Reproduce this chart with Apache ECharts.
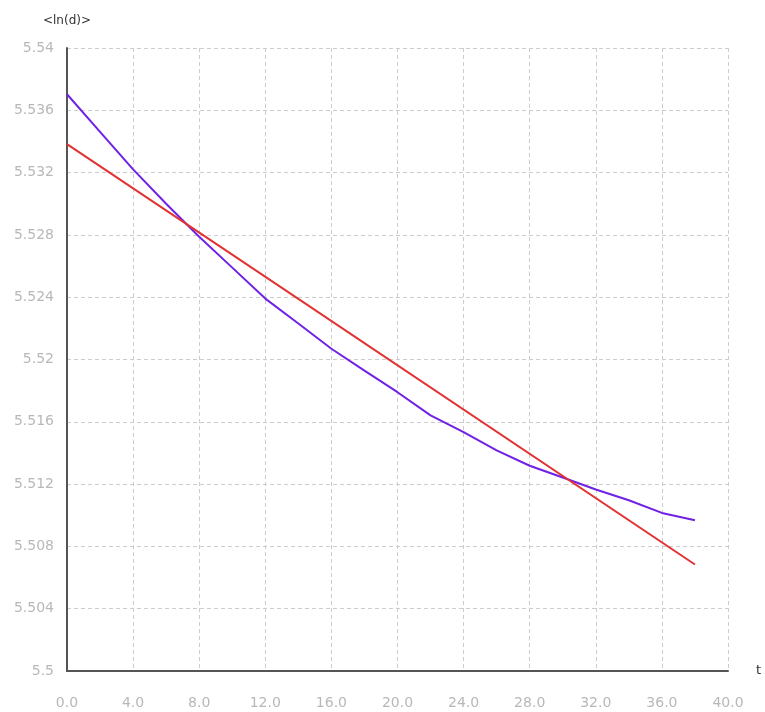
<!DOCTYPE html>
<html>
<head>
<meta charset="utf-8">
<script src="https://cdn.jsdelivr.net/npm/echarts@6/dist/echarts.min.js"></script>
<style>html,body{margin:0;padding:0;background:#fff}#c{width:765px;height:712px}</style>
</head>
<body>
<div id="c"></div>
<script>
var purpleT = [0, 2, 4, 6, 8, 10, 12, 14, 16, 18, 20, 22, 24, 26, 28, 30, 32, 34, 36, 38];
var purpleV = [5.53703, 5.53462, 5.53221, 5.53000, 5.52788, 5.52590, 5.52391, 5.52231, 5.52069, 5.51929, 5.51790, 5.51641, 5.51534, 5.51417, 5.51318, 5.51242, 5.51165, 5.51096, 5.51015, 5.50968];
var redT = [0, 14, 38];
var redV = [5.53383, 5.52389, 5.50684];
var xTicks = ["0.0","4.0","8.0","12.0","16.0","20.0","24.0","28.0","32.0","36.0","40.0"];

function pairs(t, v){ return t.map(function(x,i){return [x, v[i]];}); }

var chart = echarts.init(document.getElementById('c'));
var labelStyle = {color:'#b8b8b8', fontFamily:'DejaVu Sans', fontSize:14};
var gridLine = {color:'#cccccc', type:[4,3], width:1};
chart.setOption({
  animation:false,
  grid:{left:67, right:37, top:48, bottom:41},
  xAxis:{
    type:'value', min:0, max:40, interval:4,
    name:'t', nameLocation:'end', nameGap:28,
    nameTextStyle:{color:'#333', fontFamily:'DejaVu Sans', fontSize:13, verticalAlign:'middle', padding:[4,0,0,0]},
    axisLine:{show:true, onZero:false, lineStyle:{color:'#555', width:2}},
    axisTick:{show:false},
    axisLabel:Object.assign({margin:25, formatter:function(v){return xTicks[Math.round(v/4)];}}, labelStyle),
    splitLine:{show:true, lineStyle:gridLine}
  },
  yAxis:{
    type:'value', min:5.5, max:5.54, interval:0.004,
    name:'<ln(d)>', nameLocation:'end', nameGap:21,
    nameTextStyle:{color:'#333', fontFamily:'DejaVu Sans', fontSize:12, align:'center'},
    axisLine:{show:true, onZero:false, lineStyle:{color:'#555', width:2}},
    axisTick:{show:false},
    axisLabel:Object.assign({margin:13, padding:[5,0,0,0], formatter:function(v){return String(parseFloat(v.toFixed(3)));}}, labelStyle),
    splitLine:{show:true, lineStyle:gridLine}
  },
  series:[
    {type:'line', data:pairs(purpleT, purpleV), showSymbol:false, lineStyle:{color:'#6f22e6', width:2}},
    {type:'line', data:pairs(redT, redV), showSymbol:false, lineStyle:{color:'#e23232', width:2}}
  ]
});
</script>
</body>
</html>
